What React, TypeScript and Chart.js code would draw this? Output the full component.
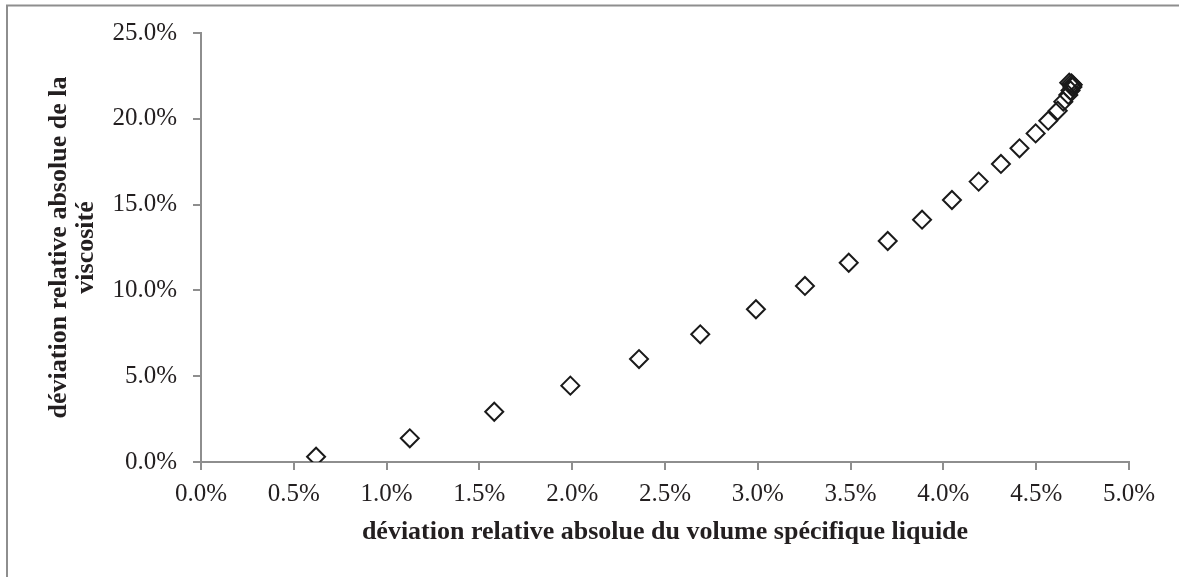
import React, { useEffect, useRef } from "react";
import { Chart, registerables } from "chart.js";

Chart.register(...registerables);

const xValues: number[] = [
  0.62, 1.125, 1.58, 1.99, 2.36, 2.69, 2.99, 3.254, 3.49, 3.70, 3.885, 4.046,
  4.19, 4.31, 4.41, 4.497, 4.565, 4.616, 4.646, 4.673, 4.685, 4.695, 4.697,
  4.69, 4.678,
];
const yValues: number[] = [
  0.31, 1.38, 2.93, 4.45, 6.0, 7.44, 8.9, 10.26, 11.61, 12.88, 14.12, 15.27,
  16.34, 17.37, 18.28, 19.15, 19.89, 20.47, 21.0, 21.39, 21.65, 21.85, 21.98,
  22.06, 22.1,
];
const xTitle = "déviation relative absolue du volume spécifique liquide";
const yTitle = ["déviation relative absolue de la", "viscosité"];

const W = 1179;
const H = 577;
const AXIS_GRAY = "#8e8e8e";
const TEXT = "#231f20";
const FONT = "'Liberation Serif', 'Times New Roman', serif";

const borderPlugin = {
  id: "outerBorder",
  afterDraw(chart: any) {
    const ctx = chart.ctx;
    ctx.save();
    ctx.strokeStyle = AXIS_GRAY;
    ctx.lineWidth = 2;
    ctx.beginPath();
    ctx.moveTo(7, H + 5);
    ctx.lineTo(7, 5.5);
    ctx.lineTo(W + 5, 5.5);
    ctx.stroke();
    ctx.restore();
  },
};

export default function App() {
  const ref = useRef<HTMLCanvasElement | null>(null);

  useEffect(() => {
    if (!ref.current) return;
    const data = xValues.map((x, i) => ({ x, y: yValues[i] }));
    const chart = new Chart(ref.current, {
      type: "scatter",
      data: {
        datasets: [
          {
            data,
            pointStyle: "rectRot",
            pointRadius: 9,
            pointBorderWidth: 2,
            pointBorderColor: "#1a1a1a",
            pointBackgroundColor: "rgba(255,255,255,0)",
            showLine: false,
          },
        ],
      },
      options: {
        responsive: false,
        animation: false,
        devicePixelRatio: 1,
        layout: { padding: { top: 33, right: 50, left: 0, bottom: 0 } },
        plugins: {
          legend: { display: false },
          tooltip: { enabled: false },
        },
        scales: {
          x: {
            type: "linear",
            min: 0,
            max: 5,
            afterFit(scale: any) {
              scale.height = 115;
            },
            ticks: {
              stepSize: 0.5,
              padding: 9,
              color: TEXT,
              font: { family: FONT, size: 25 },
              callback: (v: any) => Number(v).toFixed(1) + "%",
            },
            grid: {
              drawOnChartArea: false,
              drawTicks: true,
              tickLength: 8,
              tickColor: AXIS_GRAY,
              tickWidth: 2,
              color: AXIS_GRAY,
              lineWidth: 2,
            },
            border: { display: true, color: AXIS_GRAY, width: 2 },
            title: {
              display: true,
              text: xTitle,
              color: TEXT,
              font: { family: FONT, size: 26, weight: "bold", lineHeight: 1.04 },
              padding: { top: 0, bottom: 31 },
            },
          },
          y: {
            type: "linear",
            min: 0,
            max: 25,
            afterFit(scale: any) {
              scale.width = 201;
            },
            ticks: {
              stepSize: 5,
              padding: 16,
              color: TEXT,
              font: { family: FONT, size: 25 },
              callback: (v: any) => Number(v).toFixed(1) + "%",
            },
            grid: {
              drawOnChartArea: false,
              drawTicks: true,
              tickLength: 8,
              tickColor: AXIS_GRAY,
              tickWidth: 2,
              color: AXIS_GRAY,
              lineWidth: 2,
            },
            border: { display: true, color: AXIS_GRAY, width: 2 },
            title: {
              display: true,
              text: yTitle,
              color: TEXT,
              font: { family: FONT, size: 26, weight: "bold", lineHeight: 1.04 },
              padding: { top: 46, bottom: 0 },
            },
          },
        },
      },
      plugins: [borderPlugin],
    });
    return () => chart.destroy();
  }, []);

  return (
    <div
      style={{
        position: "fixed",
        top: 0,
        left: 0,
        width: W,
        height: H,
        overflow: "hidden",
        background: "#ffffff",
      }}
    >
      <canvas ref={ref} width={W} height={H} style={{ width: W, height: H, display: "block" }} />
    </div>
  );
}
